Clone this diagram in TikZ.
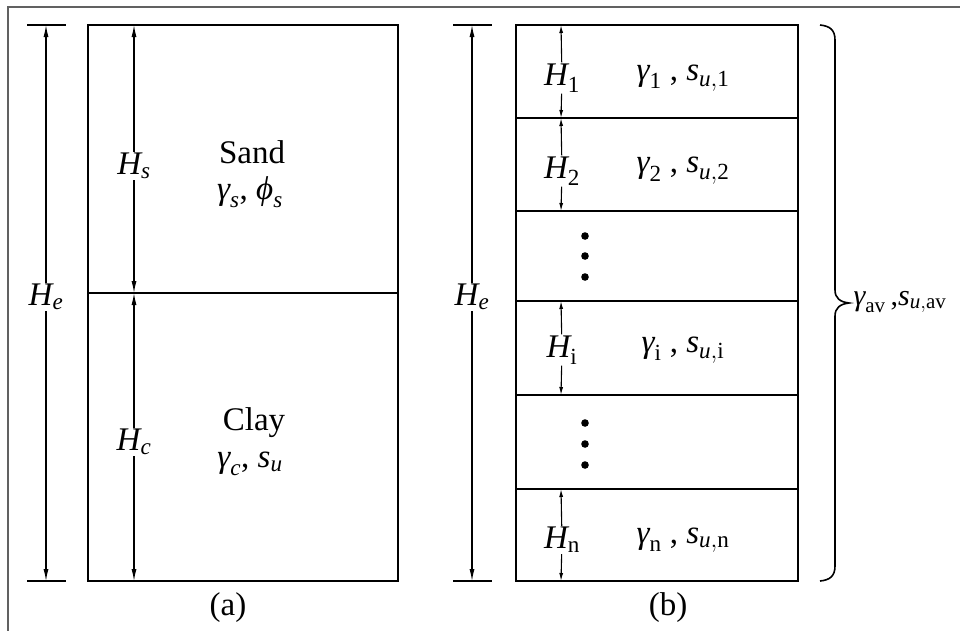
\documentclass[tikz,border=0pt]{standalone}
\usepackage{fontspec}
\setmainfont{Liberation Serif}[ItalicFont={Liberation Serif Italic}]
\usepackage{amsmath}
\usetikzlibrary{arrows.meta}
\newcommand{\vv}[1]{\textit{#1}}
\newcommand{\rr}[1]{\textrm{#1}}
\begin{document}
\begin{tikzpicture}[x=1pt,y=-1pt,line width=1.1pt,
  lbl/.style={font=\fontsize{33}{37}\selectfont,inner sep=1pt},
  dimarrow/.style={-{Latex[length=12pt,width=5pt]}},
  sdimarrow/.style={-{Latex[length=8pt,width=4pt]},line width=1.1pt},
  frameline/.style={draw=black!62,line width=1.4pt},
  dotmark/.style={fill=black}]
\useasboundingbox (0,0) rectangle (960,630);
\begin{scope}
\clip (0,0) rectangle (960,630);
\draw[frameline] (8,640) -- (8,7) -- (970,7);
\end{scope}
% ---------- panel (a)
\draw (88,25) rectangle (398,581);
\draw (88,293) -- (398,293);
\draw (27,25) -- (66,25);
\draw (27,581) -- (66,581);
\coordinate (aTop) at (46,25);
\coordinate (aBot) at (46,581);
\node[lbl] (Hea) at (46,297) {$\vv{H}_{\vv{e}}$};
\draw[dimarrow] (Hea) -- (aTop);
\draw[dimarrow] (Hea) -- (aBot);
\coordinate (sTop) at (134,25);
\coordinate (sBot) at (134,293);
\coordinate (cBot) at (134,581);
\node[lbl] (Hs) at (134,166) {$\vv{H}_{\vv{s}}$};
\node[lbl] (Hc) at (134,442) {$\vv{H}_{\vv{c}}$};
\draw[dimarrow] (Hs) -- (sTop);
\draw[dimarrow] (Hs) -- (sBot);
\draw[dimarrow] (Hc) -- (sBot);
\draw[dimarrow] (Hc) -- (cBot);
\node[lbl] (sand) at (252,152) {Sand};
\node[lbl] (sandp) at (250,192) {$\vv{γ}_{\vv{s}}$, $\vv{ϕ}_{\vv{s}}$};
\node[lbl] (clay) at (254,423) {Clay};
\node[lbl] (clayp) at (250,464) {$\vv{γ}_{\vv{c}}$, $\vv{s}_{\vv{u}}$};
\node[lbl] (capa) at (228,608) {(a)};
% ---------- panel (b)
\draw (516,25) rectangle (798,581);
\foreach \yy in {118,211,301,395,489} \draw (516,\yy) -- (798,\yy);
\draw (453,25) -- (492,25);
\draw (453,581) -- (492,581);
\coordinate (bTop) at (472,25);
\coordinate (bBot) at (472,581);
\node[lbl] (Heb) at (472,297) {$\vv{H}_{\vv{e}}$};
\draw[dimarrow] (Heb) -- (bTop);
\draw[dimarrow] (Heb) -- (bBot);
% rows
\coordinate (r0) at (561,25);
\coordinate (r1) at (561,118);
\coordinate (r2) at (561,211);
\coordinate (r3) at (561,301);
\coordinate (r4) at (561,395);
\coordinate (r5) at (561,489);
\coordinate (r6) at (561,581);
\node[lbl] (H1) at (562,78) {$\vv{H}_{\rr{1}}$};
\node[lbl] (H2) at (562,171) {$\vv{H}_{\rr{2}}$};
\node[lbl] (Hi) at (562,350) {$\vv{H}_{\rr{i}}$};
\node[lbl] (Hn) at (562,540) {$\vv{H}_{\rr{n}}$};
\draw[sdimarrow] (H1) -- (r0);
\draw[sdimarrow] (H1) -- (r1);
\draw[sdimarrow] (H2) -- (r1);
\draw[sdimarrow] (H2) -- (r2);
\draw[sdimarrow] (Hi) -- (r3);
\draw[sdimarrow] (Hi) -- (r4);
\draw[sdimarrow] (Hn) -- (r5);
\draw[sdimarrow] (Hn) -- (r6);
\node[lbl] (p1) at (683,78) {$\vv{γ}_{\rr{1}}$ , $\vv{s}_{\vv{u},\rr{1}}$};
\node[lbl] (p2) at (683,171) {$\vv{γ}_{\rr{2}}$ , $\vv{s}_{\vv{u},\rr{2}}$};
\node[lbl] (pi) at (683,350) {$\vv{γ}_{\rr{i}}$ , $\vv{s}_{\vv{u},\rr{i}}$};
\node[lbl] (pn) at (683,540) {$\vv{γ}_{\rr{n}}$ , $\vv{s}_{\vv{u},\rr{n}}$};
\foreach \yy in {236,256,277,423,444,465} \fill[dotmark] (585,\yy) circle (3.8pt);
\node[lbl] (capb) at (668,608) {(b)};
% ---------- brace
\draw[line width=1.6pt] (820,25) .. controls (830,26) and (835,30) .. (835,40)
  -- (835,290) .. controls (835,298) and (840,302) .. (849,303)
  .. controls (840,304) and (835,308) .. (835,316)
  -- (835,566) .. controls (835,576) and (830,580) .. (820,581);
\node[lbl,anchor=west,font=\fontsize{30}{34}\selectfont,inner sep=0pt] (avg) at (853,302) {$\vv{γ}_{\rr{av}}$\,,$\vv{s}_{\vv{u},\rr{av}}$};
\end{tikzpicture}
\end{document}
